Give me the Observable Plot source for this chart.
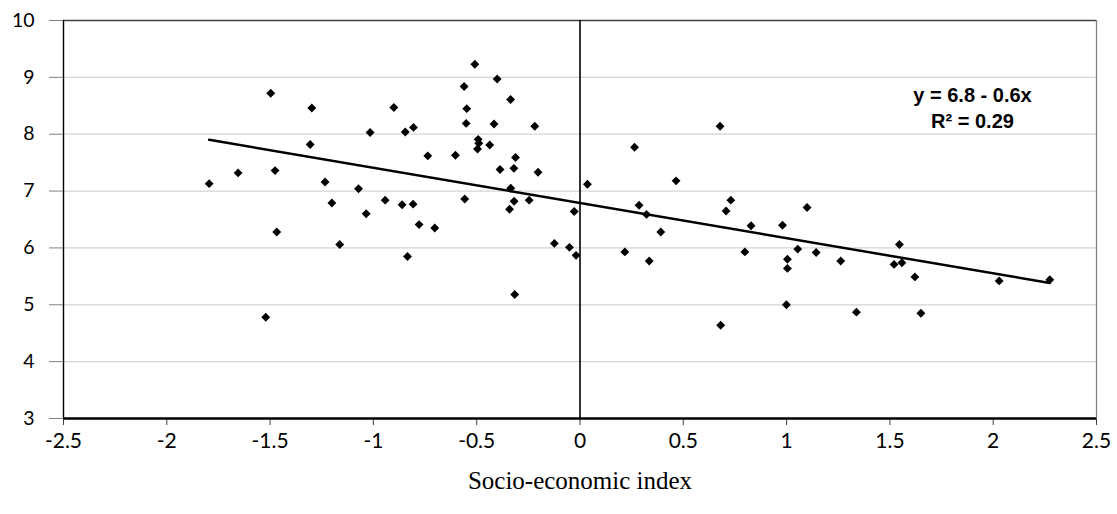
<!DOCTYPE html>
<html>
<head>
<meta charset="utf-8">
<script src="https://cdn.jsdelivr.net/npm/d3@7"></script>
<script src="https://cdn.jsdelivr.net/npm/@observablehq/plot@0.6"></script>
<style>
  html, body { margin: 0; padding: 0; background: #fff; }
  #chart svg { display: block; }
</style>
</head>
<body>
<div id="chart"></div>
<script>
// Socio-economic index (x) and outcome (y)
const xValues = [
  -1.795, -1.655, -1.497, -1.476, -1.468, -1.521, -1.298, -1.306, -1.234, -1.201,
  -1.163, -1.072, -1.035, -1.016, -0.943, -0.901, -0.861, -0.846, -0.835, -0.808,
  -0.806, -0.779, -0.737, -0.703, -0.603, -0.561, -0.558, -0.548, -0.551, -0.509,
  -0.493, -0.490, -0.496, -0.437, -0.416, -0.401, -0.387, -0.336, -0.335, -0.341,
  -0.320, -0.319, -0.312, -0.316, -0.246, -0.219, -0.203, -0.124, -0.051, -0.028,
  -0.019, 0.036, 0.217, 0.264, 0.286, 0.322, 0.335, 0.391, 0.465, 0.678,
  0.681, 0.707, 0.730, 0.798, 0.828, 0.980, 0.999, 1.004, 1.004, 1.054,
  1.099, 1.143, 1.262, 1.338, 1.520, 1.546, 1.558, 1.621, 1.650, 2.029,
  2.274
];
const yValues = [
  7.13, 7.32, 8.72, 7.36, 6.28, 4.78, 8.46, 7.82, 7.16, 6.79,
  6.06, 7.04, 6.60, 8.03, 6.84, 8.47, 6.76, 8.04, 5.85, 6.77,
  8.12, 6.41, 7.62, 6.35, 7.63, 8.84, 6.86, 8.45, 8.19, 9.23,
  7.91, 7.84, 7.74, 7.81, 8.18, 8.97, 7.38, 8.61, 7.05, 6.68,
  7.40, 6.82, 7.59, 5.18, 6.84, 8.14, 7.33, 6.08, 6.01, 6.64,
  5.87, 7.12, 5.93, 7.77, 6.75, 6.59, 5.77, 6.28, 7.18, 8.14,
  4.64, 6.65, 6.84, 5.93, 6.39, 6.40, 5.00, 5.80, 5.64, 5.98,
  6.71, 5.92, 5.77, 4.87, 5.71, 6.06, 5.74, 5.49, 4.85, 5.42,
  5.44
];
const xTicks = [-2.5, -2, -1.5, -1, -0.5, 0, 0.5, 1, 1.5, 2, 2.5];
const xTickLabels = ["-2.5", "-2", "-1.5", "-1", "-0.5", "0", "0.5", "1", "1.5", "2", "2.5"];
const yTicks = [3, 4, 5, 6, 7, 8, 9, 10];
const yTickLabels = ["3", "4", "5", "6", "7", "8", "9", "10"];
const xLabel = "Socio-economic index";
const fitIntercept = 6.8;
const fitSlope = -0.6;
const fitR2 = 0.29;

const data = xValues.map((x, i) => ({x, y: yValues[i]}));
const equation = `y = ${fitIntercept} - ${Math.abs(fitSlope)}x\nR\u00B2 = ${fitR2}`;

const tickFont = "Lato, 'Open Sans', sans-serif";

const chart = Plot.plot({
  width: 1117,
  height: 514,
  marginTop: 20,
  marginRight: 21,
  marginBottom: 96,
  marginLeft: 63,
  style: {background: "#fff", overflow: "visible"},
  x: {domain: [xTicks[0], xTicks[xTicks.length - 1]]},
  y: {domain: [yTicks[0], yTicks[yTicks.length - 1]]},
  marks: [
    Plot.gridY(yTicks.slice(1, -1), {stroke: "#d4d4d4", strokeOpacity: 1, strokeWidth: 1.3}),
    Plot.ruleY([yTicks[yTicks.length - 1]], {stroke: "#404040", strokeWidth: 1.3}),
    Plot.ruleX([xTicks[xTicks.length - 1]], {stroke: "#808080", strokeWidth: 1.3}),
    Plot.ruleX([0], {stroke: "#000", strokeWidth: 1.6}),
    Plot.ruleX([xTicks[0]], {stroke: "#000", strokeWidth: 1.4}),
    Plot.axisY({
      ticks: yTicks,
      tickFormat: d => yTickLabels[yTicks.indexOf(d)],
      tickSize: 14,
      tickPadding: 15,
      stroke: "#808080",
      fontSize: 19.5,
      fontFamily: tickFont,
      fill: "#000",
      stroke: "#808080",
      label: null
    }),
    Plot.axisX({
      ticks: xTicks,
      tickFormat: d => xTickLabels[xTicks.indexOf(d)],
      tickSize: 7,
      tickPadding: 8,
      stroke: "#404040",
      fontSize: 21,
      fontFamily: tickFont,
      fill: "#000",
      label: null
    }),
    Plot.ruleY([yTicks[0]], {stroke: "#000", strokeWidth: 2.5}),
    Plot.linearRegressionY(data, {x: "x", y: "y", stroke: "#000", strokeWidth: 2.5, ci: 0}),
    Plot.dot(data, {x: "x", y: "y", symbol: "diamond2", r: 4, fill: "#000", stroke: "none"}),
    Plot.text([equation], {
      frameAnchor: "top-right",
      dx: -124,
      dy: 63,
      textAnchor: "middle",
      lineAnchor: "top",
      lineHeight: 1.3,
      fontFamily: "'Liberation Sans', Arial, sans-serif",
      fontWeight: "bold",
      fontSize: 20,
      fill: "#000"
    }),
    Plot.text([xLabel], {
      frameAnchor: "bottom",
      dy: 70,
      textAnchor: "middle",
      fontFamily: "'Liberation Serif', 'Times New Roman', serif",
      fontSize: 25,
      fill: "#000"
    })
  ]
});

document.getElementById("chart").append(chart);
</script>
</body>
</html>
